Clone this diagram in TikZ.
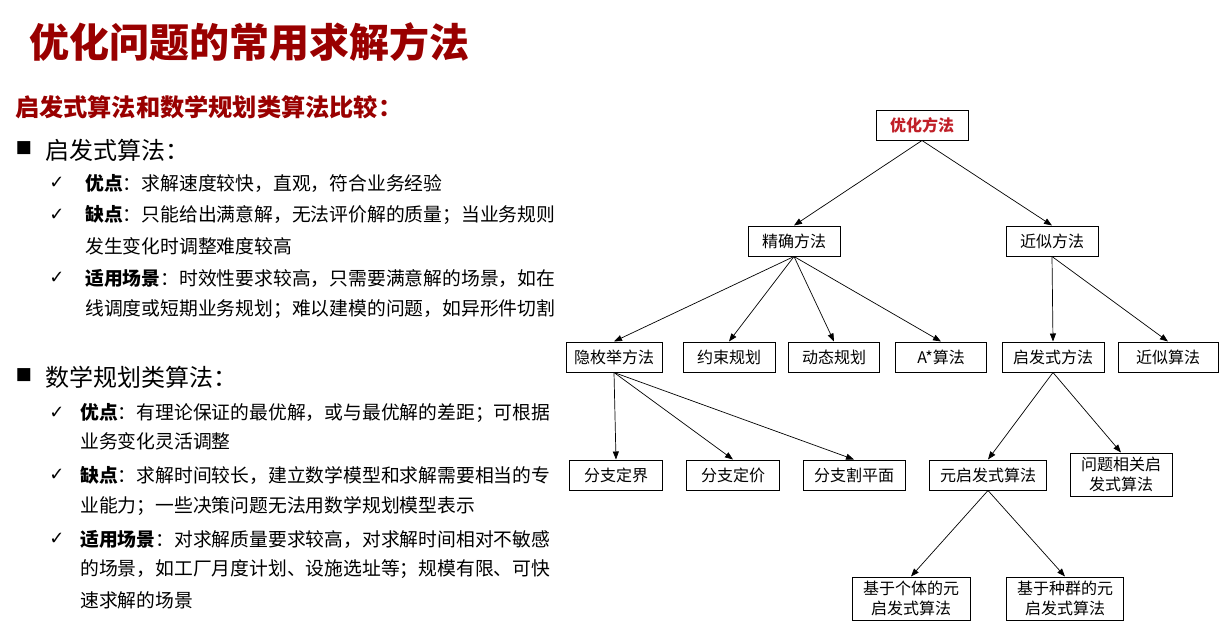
\documentclass[tikz,border=0pt]{standalone}
\usepackage{fontspec}
\setmainfont{Noto Sans CJK SC}
\newfontfamily\symfont{DejaVu Sans}
\usetikzlibrary{arrows.meta}
\definecolor{titlered}{RGB}{153,0,0}
\definecolor{rootred}{RGB}{192,32,40}
\tikzset{
  box/.style={rectangle,draw=black,line width=1pt,minimum height=30pt,inner xsep=4pt,
    font=\fontsize{16}{20}\selectfont,align=center},
  edge/.style={-{Triangle[length=8pt,width=6pt]},line width=0.7pt},
  heading/.style={anchor=west,inner sep=0pt,font=\fontsize{24}{28}\selectfont},
  txt/.style={anchor=west,inner sep=0pt,font=\fontsize{18.8}{22}\selectfont},
  tick/.style={anchor=center,inner sep=0pt,font=\symfont\fontsize{18}{20}\selectfont},
  bullet/.style={anchor=center,inner sep=0pt,font=\symfont\fontsize{17}{19}\selectfont}
}
\begin{document}
\begin{tikzpicture}[x=1pt,y=-1pt]
      \useasboundingbox (0,0) rectangle (1221,642);
      % titles
      \node[anchor=west,inner sep=0pt,text=titlered,font=\fontsize{40}{44}\selectfont\bfseries] (title) at (29,42) {优化问题的常用求解方法};
      \node[anchor=west,inner sep=0pt,text=titlered,font=\fontsize{24.2}{28}\selectfont\bfseries] (subtitle) at (15,107) {启发式算法和数学规划类算法比较：};

      % heuristic algorithms
      \node[bullet] (b1) at (24,148) {■};
      \node[heading] (h1) at (45,150) {启发式算法：};
      \node[tick] (c11) at (57,183) {✓};
      \node[txt] (l11) at (85,183) {\textbf{优点}：求解速度较快，直观，符合业务经验};
      \node[tick] (c12) at (57,215) {✓};
      \node[txt] (l12) at (85,215) {\textbf{缺点}：只能给出满意解，无法评价解的质量；当业务规则};
      \node[txt] (l13) at (85,246) {发生变化时调整难度较高};
      \node[tick] (c13) at (57,278) {✓};
      \node[txt] (l14) at (85,278) {\textbf{适用场景}：时效性要求较高，只需要满意解的场景，如在};
      \node[txt] (l15) at (85,309) {线调度或短期业务规划；难以建模的问题，如异形件切割};

      % mathematical programming
      \node[bullet] (b2) at (24,375) {■};
      \node[heading] (h2) at (45,377) {数学规划类算法：};
      \node[tick] (c21) at (57,413) {✓};
      \node[txt] (l21) at (80,413) {\textbf{优点}：有理论保证的最优解，或与最优解的差距；可根据};
      \node[txt] (l22) at (80,441) {业务变化灵活调整};
      \node[tick] (c22) at (57,475) {✓};
      \node[txt] (l23) at (80,475) {\textbf{缺点}：求解时间较长，建立数学模型和求解需要相当的专};
      \node[txt] (l24) at (80,506) {业能力；一些决策问题无法用数学规划模型表示};
      \node[tick] (c23) at (57,539) {✓};
      \node[txt] (l25) at (80,539) {\textbf{适用场景}：对求解质量要求较高，对求解时间相对不敏感};
      \node[txt] (l26) at (80,569) {的场景，如工厂月度计划、设施选址等；规模有限、可快};
      \node[txt] (l27) at (80,600) {速求解的场景};

      % tree of methods
      \node[box,minimum width=92pt,text=rootred,font=\fontsize{16}{20}\selectfont\bfseries] (root) at (922,125) {优化方法};
      \node[box,minimum width=92pt] (exact) at (794,241) {精确方法};
      \node[box,minimum width=92pt] (approx) at (1052,241) {近似方法};
      \node[box,minimum width=96pt] (implicit) at (614,357) {隐枚举方法};
      \node[box,minimum width=92pt] (cp) at (729,357) {约束规划};
      \node[box,minimum width=91pt] (dp) at (834,357) {动态规划};
      \node[box,minimum width=91pt] (astar) at (941,357) {A*算法};
      \node[box,minimum width=102pt] (heur) at (1053,357) {启发式方法};
      \node[box,minimum width=100pt] (approxalg) at (1168,357) {近似算法};
      \node[box,minimum width=93pt] (bb) at (616,475) {分支定界};
      \node[box,minimum width=93pt] (bp) at (733,475) {分支定价};
      \node[box,minimum width=102pt] (bc) at (854,475) {分支割平面};
      \node[box,minimum width=117pt] (meta) at (988,475) {元启发式算法};
      \node[box,minimum width=102pt,minimum height=43pt] (probheur) at (1121,474.5) {问题相关启\\发式算法};
      \node[box,minimum width=118pt,minimum height=43pt] (single) at (911,598.5) {基于个体的元\\启发式算法};
      \node[box,minimum width=117pt,minimum height=43pt] (pop) at (1065,598.5) {基于种群的元\\启发式算法};

      % arrows
      \foreach \a/\b in {root/exact,root/approx,exact/implicit,exact/cp,exact/dp,exact/astar,
          approx/heur,approx/approxalg,implicit/bb,implicit/bp,implicit/bc,
          heur/meta,heur/probheur,meta/single,meta/pop}
        \draw[edge] (\a.south) -- (\b.north);
\end{tikzpicture}
\end{document}
